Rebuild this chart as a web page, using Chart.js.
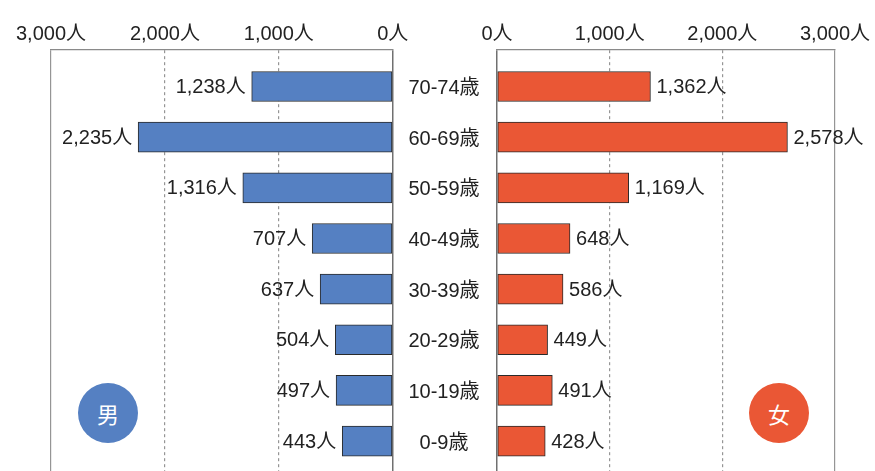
<!DOCTYPE html>
<html lang="ja">
<head>
<meta charset="utf-8">
<script src="https://cdn.jsdelivr.net/npm/chart.js@4"></script>
<style>
  body { margin: 0; background: #fff; }
  #wrap { position: relative; width: 875px; height: 471px; overflow: hidden; }
  canvas { position: absolute; top: 0; }
  #maleChart { left: 0; }
  #femaleChart { left: 392px; }
  .badge {
    position: absolute; top: 383px; width: 60px; height: 60px; border-radius: 50%;
    color: #fff; font: 22px "Noto Sans CJK JP", sans-serif;
    display: flex; align-items: center; justify-content: center;
  }
  #badgeMale { left: 78px; background: #5580c2; }
  #badgeFemale { left: 749px; background: #ea5735; }
</style>
</head>
<body>
<div id="wrap">
  <canvas id="maleChart" width="440" height="471"></canvas>
  <canvas id="femaleChart" width="483" height="471"></canvas>
  <div class="badge" id="badgeMale">男</div>
  <div class="badge" id="badgeFemale">女</div>
</div>
<script>
const ages = ['70-74歳', '60-69歳', '50-59歳', '40-49歳', '30-39歳', '20-29歳', '10-19歳', '0-9歳'];
const male = [1238, 2235, 1316, 707, 637, 504, 497, 443];
const female = [1362, 2578, 1169, 648, 586, 449, 491, 428];
const xTicks = [0, 1000, 2000, 3000];

const FONT = '"Liberation Sans", "Noto Sans CJK JP", sans-serif';
Chart.defaults.font.family = FONT;
Chart.defaults.font.size = 20;
Chart.defaults.color = '#222';

function fmt(v) {
  return v.toLocaleString('en-US') + '人';
}

// value labels next to bar ends, plus age labels in the gap (female chart only)
const valueLabels = {
  id: 'valueLabels',
  afterDatasetsDraw(chart, args, opts) {
    const ctx = chart.ctx;
    const meta = chart.getDatasetMeta(0);
    const data = chart.data.datasets[0].data;
    ctx.save();
    ctx.font = '20px ' + FONT;
    ctx.fillStyle = '#222';
    ctx.textBaseline = 'middle';
    ctx.textAlign = opts.side === 'left' ? 'right' : 'left';
    meta.data.forEach((bar, i) => {
      const x = opts.side === 'left' ? bar.x - 6 : bar.x + 6;
      ctx.fillText(fmt(data[i].x), x, bar.y + 1);
    });
    if (opts.categories) {
      const y = chart.scales.y;
      ctx.textAlign = 'center';
      ages.forEach((a, i) => {
        ctx.fillText(a, chart.chartArea.left - 53, y.getPixelForValue(i) + 2);
      });
    }
    ctx.restore();
  }
};

function xScale(reverse) {
  return {
    type: 'linear',
    position: 'top',
    reverse: reverse,
    min: 0,
    max: 3000,
    afterBuildTicks: (s) => { s.ticks = xTicks.map(v => ({ value: v })); },
    afterFit: (s) => { s.height = 50; },
    ticks: { padding: 4, callback: (v) => fmt(v) },
    grid: {
      drawTicks: false,
      color: (c) => (c.tick && c.tick.value === 0) ? '#707070' : '#959595',
      lineWidth: (c) => (c.tick && c.tick.value === 0) ? 1.5 : 1.2
    },
    border: {
      display: true,
      color: '#8a8a8a',
      width: 1.2,
      dash: (c) => (c.tick && c.tick.value % 3000 !== 0) ? [3, 3] : []
    }
  };
}

const yScale = {
  type: 'linear',
  display: false,
  reverse: true,
  offset: false,
  min: -0.72,
  max: 7.59
};

function makeChart(id, values, color, side, padding) {
  return new Chart(document.getElementById(id), {
    type: 'bar',
    data: {
      datasets: [{
        data: values.map((v, i) => ({ x: v, y: i })),
        backgroundColor: color,
        borderColor: '#2a2a2a',
        borderWidth: 1,
        borderSkipped: false,
        barThickness: 30
      }]
    },
    options: {
      indexAxis: 'y',
      responsive: false,
      animation: false,
      layout: { padding: padding },
      plugins: {
        legend: { display: false },
        tooltip: { enabled: false },
        valueLabels: { side: side, categories: side === 'right' }
      },
      scales: {
        x: xScale(side === 'left'),
        y: yScale
      }
    },
    plugins: [valueLabels]
  });
}

makeChart('maleChart', male, '#5580c2', 'left', { left: 51, right: 47.3, top: 0, bottom: 0 });
makeChart('femaleChart', female, '#ea5735', 'right', { left: 105, right: 40, top: 0, bottom: 0 });
</script>
</body>
</html>
